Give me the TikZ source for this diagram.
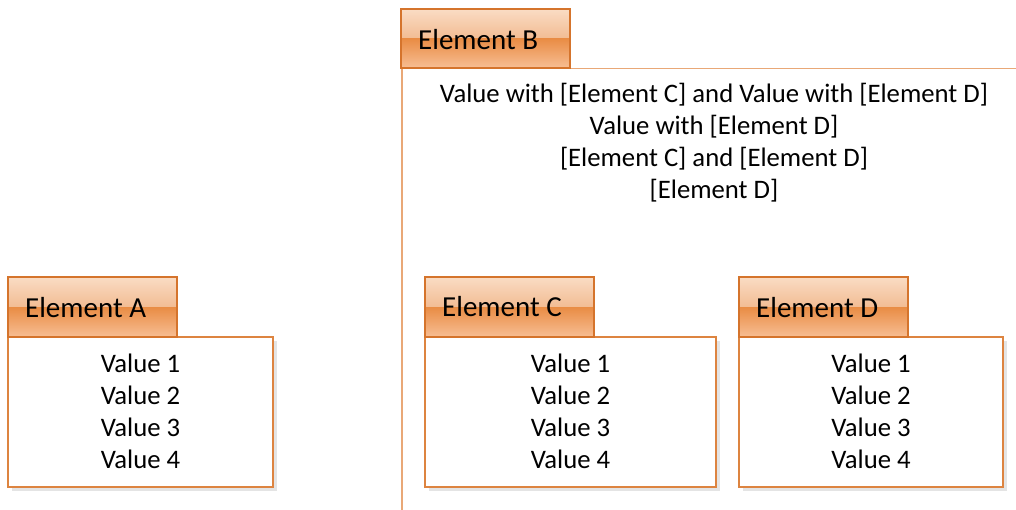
\documentclass[tikz,border=0pt]{standalone}
\usepackage{fontspec}
\setmainfont{Carlito}
\usetikzlibrary{positioning}
\definecolor{tabborder}{HTML}{D5742C}
\definecolor{bodyborder}{HTML}{DD8440}
\definecolor{frameline}{HTML}{E9A877}
\definecolor{tabtopA}{HTML}{FADCC4}
\definecolor{tabtopB}{HTML}{F2BC93}
\definecolor{tabbotA}{HTML}{E98C44}
\definecolor{tabbotB}{HTML}{F7BE94}
\definecolor{shadowgray}{HTML}{E4E4E4}
\tikzset{
  valtext/.style={font=\fontsize{26.7}{32}\selectfont, align=center, inner sep=0pt},
  tabtext/.style={font=\fontsize{29}{32}\selectfont, anchor=west, inner sep=0pt},
  bodybox/.style={draw=bodyborder, line width=1.3pt, fill=white},
  shadowbox/.style={fill=shadowgray, draw=none},
  tabborderstyle/.style={draw=tabborder, line width=1.2pt},
  frame/.style={draw=frameline, line width=1.3pt},
}
% \elemtab{left}{top}{right}{bottom}
\newcommand{\elemtab}[4]{%
  \shade[top color=tabtopA, bottom color=tabtopB] (#1,#2) rectangle (#3,{(#2+#4)/2});
  \shade[top color=tabbotA, bottom color=tabbotB] (#1,{(#2+#4)/2}) rectangle (#3,#4);
  \draw[tabborderstyle] (#1,#2) rectangle (#3,#4);
}
\newcommand{\elembody}[4]{%
  \fill[shadowbox] (#1+4,#2+4) rectangle (#3+4,#4+4);
  \draw[bodybox] (#1,#2) rectangle (#3,#4);
}
\begin{document}
\begin{tikzpicture}[x=1pt,y=-1pt]
\useasboundingbox[fill=white] (0,0) rectangle (1016,510);

% Element B frame
\draw[frame] (402,68.5) -- (1016,68.5);
\draw[frame] (402,68.5) -- (402,510);
\elemtab{401}{9}{570}{68}
\node[tabtext] (tabB) at (418,40) {Element B};
\node[valtext] (valB) at (714,143) {Value with [Element C] and Value with [Element D]\\Value with [Element D]\\{}[Element C] and [Element D]\\{}[Element D]};

% Element A
\elembody{8}{337}{273}{487}
\elemtab{8}{277}{177}{337}
\node[tabtext] (tabA) at (25,308) {Element A};
\node[valtext] (valA) at (140.5,411) {Value 1\\Value 2\\Value 3\\Value 4};

% Element C
\elembody{425}{337}{716}{487}
\elemtab{425}{277}{594}{337}
\node[tabtext] (tabC) at (442,307) {Element C};
\node[valtext] (valC) at (570.5,411) {Value 1\\Value 2\\Value 3\\Value 4};

% Element D
\elembody{739}{337}{1003}{487}
\elemtab{739}{277}{908}{337}
\node[tabtext] (tabD) at (756,308) {Element D};
\node[valtext] (valD) at (871,411) {Value 1\\Value 2\\Value 3\\Value 4};
\end{tikzpicture}
\end{document}
